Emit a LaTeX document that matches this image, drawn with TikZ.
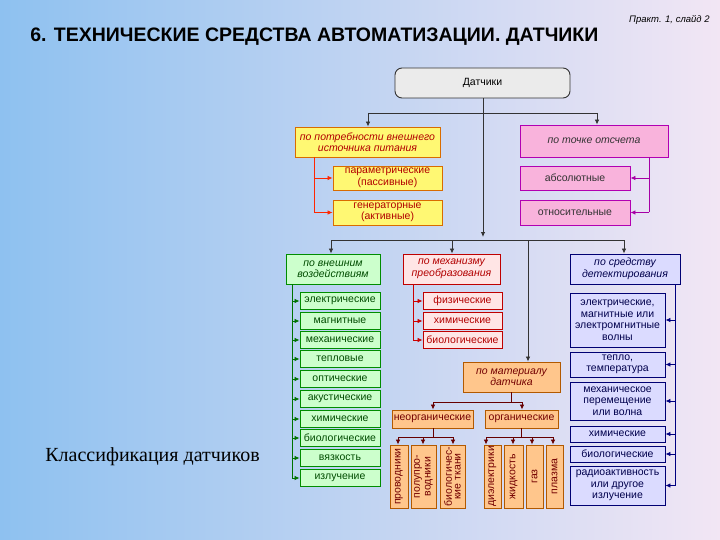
\documentclass[tikz,border=0pt]{standalone}
\usepackage{fontspec}
\setmainfont{Liberation Sans}
\newfontfamily\serifcls{Liberation Serif}
\usetikzlibrary{arrows.meta}
\definecolor{bgl}{HTML}{8EC1F0}
\definecolor{bgr}{HTML}{F2E6F4}
\newcommand{\bx}[7]{\node[#6, minimum width={(#4)*1pt-(#2)*1pt}, minimum height={(#5)*1pt-(#3)*1pt}] (#1) at ({(#2+#4)/2},{(#3+#5)/2}) {#7};}
\begin{document}
\begin{tikzpicture}[x=1pt,y=-1pt,font=\fontsize{10.5}{11.5}\selectfont,
 base/.style={draw, inner sep=0pt, align=center, line width=0.9pt},
 yel/.style={base, fill=yellow!55!white, draw=orange!85!black, text=red!70!black},
 pnk/.style={base, fill=magenta!30!white, draw=violet!60!magenta, text=black!80},
 grn/.style={base, fill=green!20!white, draw=green!55!black, text=green!30!black},
 red/.style={base, fill=red!10!white, draw=red!75!black, text=red!70!black},
 blu/.style={base, fill=blue!14!white, draw=blue!45!black, text=blue!30!black},
 orn/.style={base, fill=orange!45!white, draw=orange!70!black, text=red!45!black},
 arr/.style={-{Latex[length=5pt,width=4.5pt]}},
 every path/.style={line width=0.8pt}]
\shade[left color=bgl,right color=bgr] (0,0) rectangle (720,540);
\useasboundingbox (0,0) rectangle (720,540);
\node[font=\bfseries\fontsize{19.5}{21}\selectfont, anchor=west, inner sep=0pt] (title) at (30,37) {6. ТЕХНИЧЕСКИЕ СРЕДСТВА АВТОМАТИЗАЦИИ. ДАТЧИКИ};
\node[font=\itshape\fontsize{9.5}{10}\selectfont, anchor=east, inner sep=0pt] (slide) at (710,20) {Практ. 1, слайд 2};
\node[font=\serifcls\fontsize{20}{22}\selectfont, anchor=west, inner sep=0pt] (cls) at (45,457) {Классификация датчиков};
\bx{d}{395}{68}{570}{98}{base, draw=black!80, fill=black!8, rounded corners=7pt}{Датчики}
% top branches
\bx{y}{295}{127}{440}{157}{yel}{\itshape по потребности внешнего\\\itshape источника питания}
\bx{y1}{333}{166}{442}{190}{yel}{параметрические\\(пассивные)}
\bx{y2}{333}{200}{442}{225}{yel}{генераторные\\(активные)}
\bx{p}{520}{125}{668}{157}{pnk}{\itshape по точке отсчета}
\bx{p1}{520}{166}{630}{190}{pnk}{абсолютные}
\bx{p2}{520}{200}{630}{225}{pnk}{относительные}
\coordinate (hy) at (368,113); \coordinate (hp) at (597,113);
\draw[black!80,arr] (d.south -| 483,0) -- (483,237) coordinate (tr);
\draw[black!80] (hy) -- (hp);
\draw[black!80,arr] (hy) -- (hy |- y.north);
\draw[black!80,arr] (hp) -- (hp |- p.north);
\coordinate (yx) at (314,0);
\draw[red!70!orange] (yx |- y.south) -- (yx |- y2.west);
\draw[red!70!orange,arr] (yx |- y1.west) -- (y1.west);
\draw[red!70!orange,arr] (yx |- y2.west) -- (y2.west);
\coordinate (px) at (649,0);
\draw[violet!70!magenta] (px |- p.south) -- (px |- p2.east);
\draw[violet!70!magenta,arr] (px |- p1.east) -- (p1.east);
\draw[violet!70!magenta,arr] (px |- p2.east) -- (p2.east);
% second level
\bx{g}{286}{254}{380}{284}{grn}{\itshape по внешним\\\itshape воздействиям}
\bx{r}{403}{254}{500}{284}{red}{\itshape по механизму\\\itshape преобразования}
\bx{b}{570}{254}{680}{284}{blu}{\itshape по средству\\\itshape детектирования}
\bx{m}{463}{362}{560}{392}{orn}{\itshape по материалу\\\itshape датчика}
\coordinate (h1) at (331,240); \coordinate (h2) at (624,240);
\draw[black!80] (h1) -- (h2);
\draw[black!80,arr] (h1) -- (h1 |- g.north);
\draw[black!80,arr] (452,240) -- (r.north -| 452,0);
\draw[black!80,arr] (528,240) -- (m.north -| 528,0);
\draw[black!80,arr] (h2) -- (h2 |- b.north);
% green
\foreach \i/\yc/\t in {1/301/электрические,2/321/магнитные,3/340/механические,4/359/тепловые,5/379/оптические,6/399/акустические,7/419/химические,8/438/биологические,9/458/вязкость,10/478/излучение}{
 \bx{g\i}{300}{\yc-8.5}{380}{\yc+8.5}{grn}{\t}}
\coordinate (gx) at (292,0);
\draw[green!45!black] (gx |- g.south) -- (gx |- g10.west);
\foreach \i in {1,...,10}{\draw[green!45!black,arr] (gx |- g\i.west) -- (g\i.west);}
% red
\foreach \i/\yc/\t in {1/301/физические,2/321/химические,3/340/биологические}{
 \bx{r\i}{423}{\yc-8.5}{502}{\yc+8.5}{red}{\t}}
\coordinate (rx) at (413,0);
\draw[red!80!black] (rx |- r.south) -- (rx |- r3.west);
\foreach \i in {1,2,3}{\draw[red!80!black,arr] (rx |- r\i.west) -- (r\i.west);}
% blue
\bx{b1}{570}{293}{665}{347}{blu}{электрические,\\магнитные или\\электромгнитные\\волны}
\bx{b2}{570}{352}{665}{377}{blu}{тепло,\\температура}
\bx{b3}{570}{382}{665}{420}{blu}{механическое\\перемещение\\или волна}
\bx{b4}{570}{426}{665}{442}{blu}{химические}
\bx{b5}{570}{446}{665}{462}{blu}{биологические}
\bx{b6}{570}{466}{665}{505}{blu}{радиоактивность\\или другое\\излучение}
\coordinate (bx) at (675,0);
\draw[blue!50!black] (bx |- b.south) -- (bx |- b6.east);
\foreach \i in {1,...,6}{\draw[blue!50!black,arr] (bx |- b\i.east) -- (b\i.east);}
% material
\bx{mi}{392}{410}{473}{428}{orn}{неорганические}
\bx{mo}{485}{410}{558}{428}{orn}{органические}
\draw[red!40!black] (m.south -| 511,0) -- (511,402);
\draw[red!40!black] (433,402) -- (522,402);
\draw[red!40!black,arr] (433,402) -- (mi.north -| 433,0);
\draw[red!40!black,arr] (522,402) -- (mo.north -| 522,0);
\bx{v1}{390}{445}{408}{508}{orn}{\rotatebox{90}{проводники}}
\bx{v2}{411}{445}{436}{508}{orn}{\rotatebox{90}{\shortstack{полупро-\\водники}}}
\bx{v3}{440}{445}{465}{508}{orn}{\rotatebox{90}{\shortstack{биологичес-\\кие ткани}}}
\bx{v4}{484}{445}{501}{508}{orn}{\rotatebox{90}{диэлектрики}}
\bx{v5}{504}{445}{523}{508}{orn}{\rotatebox{90}{жидкость}}
\bx{v6}{526}{445}{543}{508}{orn}{\rotatebox{90}{газ}}
\bx{v7}{546}{445}{563}{508}{orn}{\rotatebox{90}{плазма}}
\draw[red!40!black] (mi.south -| 433,0) -- (433,437);
\draw[red!40!black] (398,437) -- (453,437);
\draw[red!40!black] (mo.south -| 521,0) -- (521,437);
\draw[red!40!black] (486,437) -- (553,437);
\foreach \v/\xx in {v1/398,v2/423,v3/453,v4/486,v5/513,v6/532,v7/553}{
 \draw[red!40!black,arr] (\xx,437) -- (\v.north -| \xx,0);}
\end{tikzpicture}
\end{document}
